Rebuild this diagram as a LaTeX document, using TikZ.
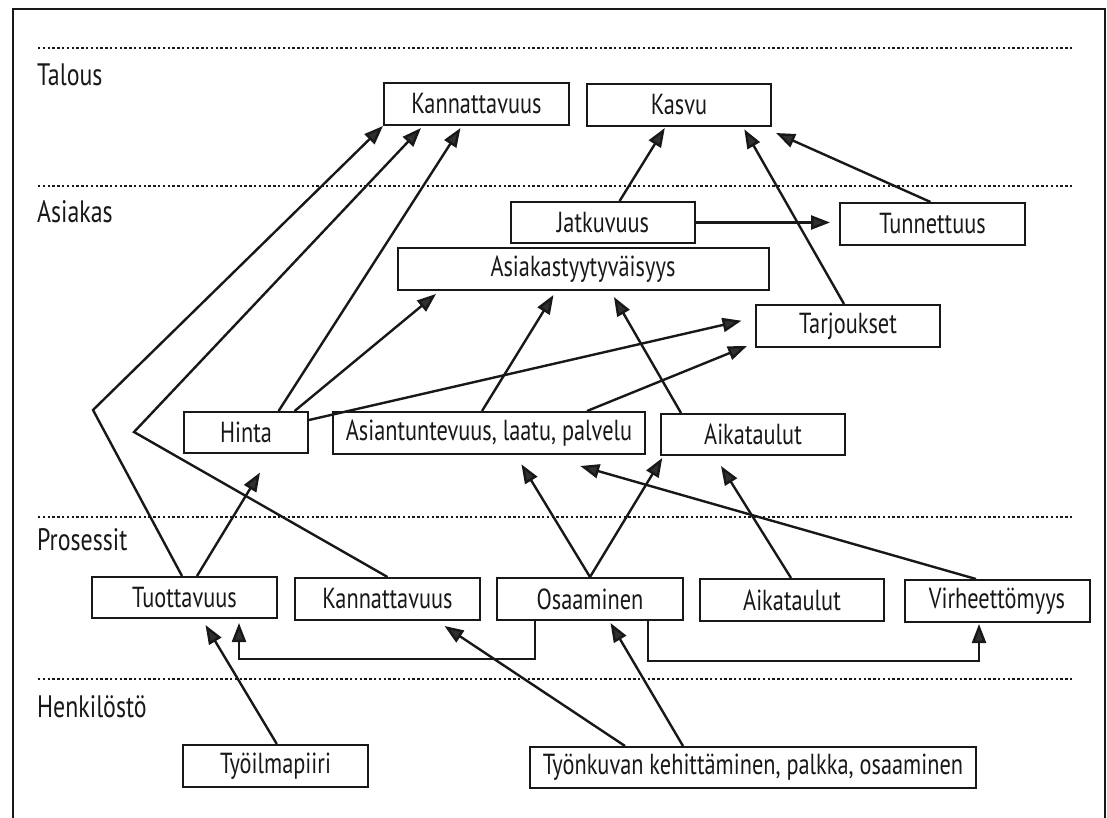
\documentclass[tikz,border=0pt]{standalone}
\usepackage{fontspec}
\setmainfont{PT Sans}[FakeStretch=0.77]
\usetikzlibrary{arrows.meta,calc}
\definecolor{ink}{HTML}{181818}
\definecolor{headc}{HTML}{303030}
\begin{document}
\begin{tikzpicture}[x=1pt,y=-1pt,
  box/.style={draw=ink, line width=2pt, fill=white, inner sep=0pt, minimum height=42pt,
    font=\fontsize{29}{33}\selectfont, text=ink},
  lbl/.style={anchor=west, inner sep=0pt, font=\fontsize{29}{33}\selectfont, text=ink},
  sep/.style={draw=ink, line width=1.8pt, dash pattern=on 2.4pt off 2.4pt},
  arr/.style={draw=ink, line width=2.4pt, -{Triangle[length=19pt,width=14pt,fill=headc]}},
  frame/.style={draw=ink, line width=1.8pt}]
\useasboundingbox (0,0) rectangle (1107,818);
\fill[white] (0,0) rectangle (1107,818);
\draw[frame] (13,818) -- (13,9) -- (1105,9) -- (1105,818);
% separators
\draw[sep] (38,48) -- (1072,48);
\draw[sep] (38,186) -- (1072,186);
\draw[sep] (38,517) -- (1072,517);
\draw[sep] (38,679) -- (1072,679);
% row labels
\node[lbl, font=\fontsize{31}{35}\selectfont] (lt) at (37,75) {Talous};
\node[lbl, font=\fontsize{31}{35}\selectfont] (la) at (37,212) {Asiakas};
\node[lbl, font=\fontsize{31}{35}\selectfont] (lp) at (37,540) {Prosessit};
\node[lbl, font=\fontsize{31}{35}\selectfont] (lh) at (37,707) {Henkilöstö};
% boxes
\node[box, minimum width=185pt] (k1) at (476.5,104) {Kannattavuus};
\node[box, minimum width=184pt] (kasvu) at (679,105) {Kasvu};
\node[box, minimum width=184pt, minimum height=41pt] (jatk) at (603,222.5) {Jatkuvuus};
\node[box, minimum width=185pt] (tunn) at (932.5,224) {Tunnettuus};
\node[box, minimum width=371pt] (asty) at (583,269) {Asiakastyytyväisyys};
\node[box, minimum width=184pt] (tarj) at (848,326) {Tarjoukset};
\node[box, minimum width=124pt, minimum height=41pt] (hinta) at (246,432.5) {Hinta};
\node[box, minimum width=312.5pt] (asia) at (489,433) {Asiantuntevuus, laatu, palvelu};
\node[box, minimum width=183.5pt, minimum height=41pt] (aik1) at (753,434.5) {Aikataulut};
\node[box, minimum width=185pt, minimum height=41pt] (tuot) at (184.5,597.5) {Tuottavuus};
\node[box, minimum width=185pt] (k2) at (387.5,599) {Kannattavuus};
\node[box, minimum width=185.5pt] (osa) at (590,599) {Osaaminen};
\node[box, minimum width=184pt] (aik2) at (792,600) {Aikataulut};
\node[box, minimum width=185pt] (virh) at (997,601) {Virheettömyys};
\node[box, minimum width=185pt] (tyoil) at (275.5,766) {Työilmapiiri};
\node[box, minimum width=446pt, minimum height=41pt] (tyonk) at (753,767.5) {Työnkuvan kehittäminen, palkka, osaaminen};
% bend points
\coordinate (b1) at (93,410);
\coordinate (b2) at (134,432);
% connectors
\draw[arr] ($(tuot.north)+(-2.5,0)$) -- (b1) -- (k1.south west);
\draw[arr] (k2.north) -- (b2) -- ($(k1.south)+(-55.5,2)$);
\draw[arr] ($(hinta.north)+(32.6,0)$) -- ($(k1.south)+(-16,2)$);
\draw[arr] ($(hinta.north)+(48.6,0)$) -- ($(asty.south)+(-147,3)$);
\draw[arr] ($(hinta.east)+(0,-12.5)$) -- ($(tarj.west)+(-13.5,-5.3)$);
\draw[arr] ($(asia.north)+(-7,0)$) -- ($(asty.south)+(-29.5,4)$);
\draw[arr] ($(asia.north)+(98,0)$) -- ($(tarj.south west)+(-8,-2)$);
\draw[arr] ($(aik1.north)+(-72,0)$) -- ($(asty.south)+(31,6)$);
\draw[arr] ($(jatk.north)+(16.6,0)$) -- ($(kasvu.south)+(-14.2,1)$);
\draw[arr] (jatk.east) -- ($(jatk.east -| tunn.west)+(-9,0)$);
\draw[arr] ($(tarj.north)+(-4,0)$) -- ($(kasvu.south)+(65.3,2.3)$);
\draw[arr] ($(tunn.north)+(-2,0)$) -- ($(kasvu.south east)+(4,6)$);
\draw[arr] ($(tuot.north)+(12.5,0)$) -- ($(hinta.south)+(14,18.5)$);
\draw[arr] (osa.north) -- ($(asia.south)+(32.4,9.3)$);
\draw[arr] (osa.north) -- ($(aik1.south west)+(2,2)$);
\draw[arr] ($(aik2.north)+(-1,0)$) -- ($(aik1.south)+(-32,10)$);
\draw[arr] ($(virh.north)+(-21,0)$) -- ($(asia.south east)+(-66,11)$);
\draw[arr] ($(osa.south west)+(38.5,0)$) -- ++(0,38) -| ($(tuot.south)+(54.5,4)$);
\draw[arr] ($(osa.south east)+(-36,0)$) -- ++(0,40) -| ($(virh.south)+(-18,1)$);
\draw[arr] ($(tyoil.north)+(1.3,0)$) -- ($(tuot.south)+(21,6)$);
\draw[arr] ($(tyonk.north)+(-128,0)$) -- ($(k2.south)+(57,5)$);
\draw[arr] ($(tyonk.north)+(-70,0)$) -- ($(osa.south)+(20.5,2)$);
\end{tikzpicture}
\end{document}
